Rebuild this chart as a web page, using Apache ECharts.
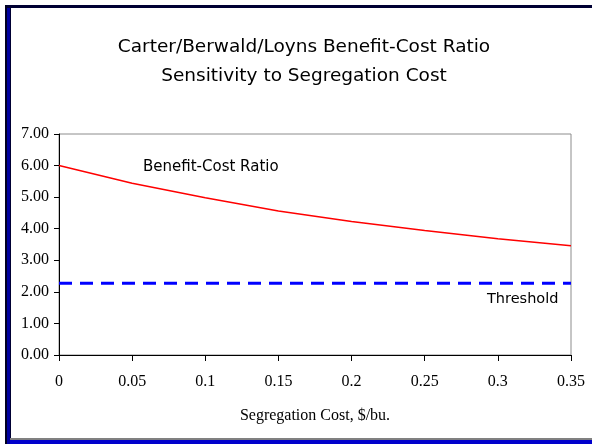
<!DOCTYPE html>
<html>
<head>
<meta charset="utf-8">
<script src="https://cdn.jsdelivr.net/npm/echarts@6/dist/echarts.min.js"></script>
<style>
html,body{margin:0;padding:0;background:#fff;}
#c{width:592px;height:444px;}
</style>
</head>
<body>
<div id="c"></div>
<script>
// Data
var segCost = [0, 0.05, 0.1, 0.15, 0.2, 0.25, 0.3, 0.35];
var benefitCostRatio = [6.00, 5.44, 4.98, 4.56, 4.23, 3.94, 3.68, 3.46];
var threshold = [2.27, 2.27, 2.27, 2.27, 2.27, 2.27, 2.27, 2.27];
var xTickLabels = ['0', '0.05', '0.1', '0.15', '0.2', '0.25', '0.3', '0.35'];
var yTickLabels = ['0.00', '1.00', '2.00', '3.00', '4.00', '5.00', '6.00', '7.00'];

var chart = echarts.init(document.getElementById('c'), null, {renderer: 'canvas'});
var comic = 'DejaVu Sans';
var serif = 'Liberation Serif';

function pairs(xs, ys) { return xs.map(function (x, i) { return [x, ys[i]]; }); }

chart.setOption({
  backgroundColor: '#ffffff',
  animation: false,
  title: {
    text: 'Carter/Berwald/Loyns Benefit-Cost Ratio\nSensitivity to Segregation Cost',
    left: 299, top: 28, textAlign: 'center',
    textStyle: {fontFamily: comic, fontSize: 18.5, fontWeight: 'normal', color: '#000', lineHeight: 29}
  },
  grid: {left: 59, right: 21, top: 134, bottom: 89, show: true, borderColor: '#8c8c8c', borderWidth: 1, backgroundColor: 'transparent'},
  xAxis: {
    type: 'value', min: 0, max: 0.35, interval: 0.05,
    name: 'Segregation Cost, $/bu.', nameLocation: 'middle', nameGap: 53,
    nameTextStyle: {fontFamily: serif, fontSize: 16, color: '#000'},
    axisLine: {show: true, lineStyle: {color: '#000', width: 1}},
    axisTick: {show: true, inside: false, length: 6, lineStyle: {color: '#000'}},
    axisLabel: {fontFamily: serif, fontSize: 16, color: '#000', margin: 19,
      formatter: function (v) { var i = Math.round(v / 0.05); return xTickLabels[i]; }},
    splitLine: {show: false}
  },
  yAxis: {
    type: 'value', min: 0, max: 7, interval: 1,
    axisLine: {show: true, lineStyle: {color: '#000', width: 1}},
    axisTick: {show: true, inside: false, length: 5, lineStyle: {color: '#000'}},
    axisLabel: {fontFamily: serif, fontSize: 16, color: '#000', margin: 10,
      formatter: function (v) { return yTickLabels[Math.round(v)]; }},
    splitLine: {show: false}
  },
  series: [
    {
      name: 'Benefit-Cost Ratio', type: 'line', data: pairs(segCost, benefitCostRatio),
      showSymbol: false, symbol: 'none', smooth: false,
      lineStyle: {color: '#ff0000', width: 1.5}
    },
    {
      name: 'Threshold', type: 'line', data: pairs(segCost, threshold),
      showSymbol: false, symbol: 'none',
      lineStyle: {color: '#0000ff', width: 3, type: [13, 8]}
    }
  ],
  graphic: [
    // frame
    {type: 'rect', shape: {x: 5, y: 5, width: 592, height: 3}, style: {fill: '#000033'}, silent: true},
    {type: 'rect', shape: {x: 5, y: 5, width: 2, height: 440}, style: {fill: '#000022'}, silent: true},
    {type: 'rect', shape: {x: 7, y: 8, width: 3, height: 436}, style: {fill: '#0000a0'}, silent: true},
    {type: 'rect', shape: {x: 10, y: 8, width: 1, height: 432}, style: {fill: '#000033'}, silent: true},
    {type: 'rect', shape: {x: 10, y: 438, width: 592, height: 2}, style: {fill: '#808080'}, silent: true},
    {type: 'rect', shape: {x: 10, y: 440, width: 592, height: 4}, style: {fill: '#0000cc'}, silent: true},
    // series annotations
    {type: 'text', left: 143, top: 160, style: {text: 'Benefit-Cost Ratio', fontFamily: comic, fontSize: 15, fill: '#000'}},
    {type: 'text', left: 487, top: 292, style: {text: 'Threshold', fontFamily: comic, fontSize: 14.5, fill: '#000'}}
  ]
});
</script>
</body>
</html>
